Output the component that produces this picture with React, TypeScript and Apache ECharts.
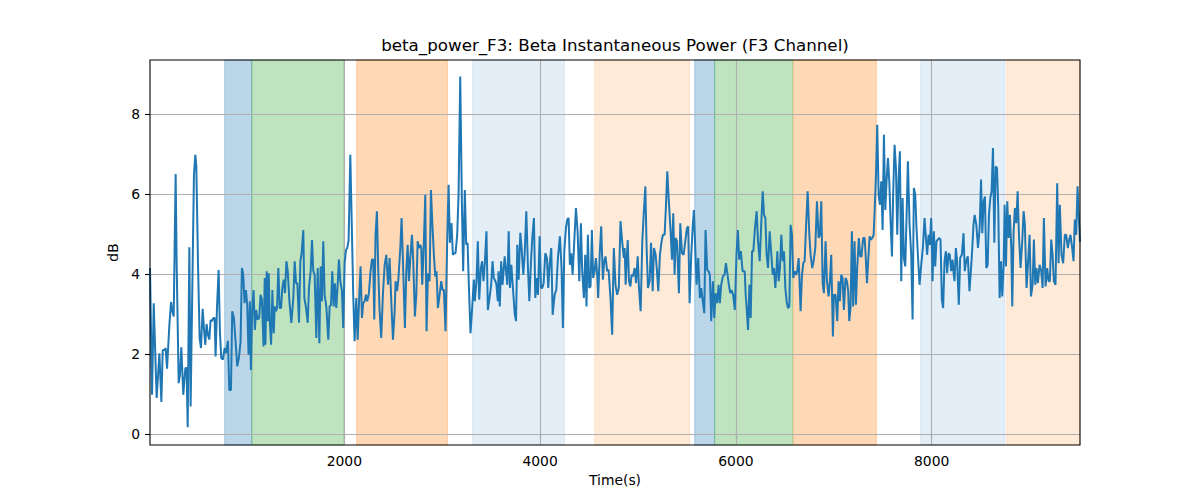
import React, { useEffect, useRef } from "react";
import * as echarts from "echarts";

const titleText = "beta_power_F3: Beta Instantaneous Power (F3 Channel)";
const xAxisName = "Time(s)";
const yAxisName = "dB";
const xTicks = [2000, 4000, 6000, 8000];
const yTicks = [0, 2, 4, 6, 8];
const xRange = [15, 9515];
const yRange = [-0.275, 9.35];

// [time (s), beta power (dB)]
const betaPowerDb: [number, number][] = [
  [15,4.15],[36,0.98],[53,3.27],[83,0.9],[111,2.02],[131,0.8],[145,2.1],[165,2.1],[175,2.15],[189,1.63],[213,2.73],[230,3.3],[243,3.07],[257,2.94],[277,6.5],[287,4.3],[308,1.27],[321,1.48],[335,2.17],[355,0.98],[376,1.65],[389,1.65],[400,0.17],[417,4.67],[430,0.69],[464,6.48],[478,6.98],[488,6.7],[505,4.3],[522,2.4],[536,2.15],[553,3.13],[566,2.65],[580,2.23],[593,2.75],[607,2.48],[621,2.36],[634,2.85],[648,2.82],[661,2.9],[675,2.9],[685,1.94],[699,3.15],[716,4.1],[729,2.57],[743,1.9],[760,1.86],[777,2.15],[791,2.02],[811,2.33],[825,1.1],[842,1.1],[855,3.07],[872,2.9],[889,2.32],[906,1.69],[923,1.9],[940,2.3],[954,4.15],[967,4.0],[981,3.27],[995,3.6],[1008,3.23],[1022,1.98],[1035,3.32],[1046,1.6],[1059,3.1],[1073,3.6],[1086,2.6],[1100,3.1],[1114,2.86],[1131,2.9],[1144,3.48],[1158,3.36],[1175,2.19],
  [1187,3.9],[1194,2.23],[1207,4.07],[1218,2.82],[1228,4.02],[1238,2.82],[1252,2.23],[1265,3.6],[1279,2.52],[1289,3.19],[1303,3.07],[1313,3.15],[1326,4.15],[1340,3.15],[1354,3.15],[1367,3.65],[1381,3.86],[1394,3.52],[1408,4.32],[1422,4.07],[1439,3.32],[1459,2.78],[1479,3.4],[1493,4.32],[1507,3.77],[1520,3.77],[1537,2.78],[1551,4.32],[1564,4.52],[1581,5.1],[1592,3.4],[1609,3.15],[1626,2.78],[1639,3.65],[1656,4.07],[1670,4.85],[1683,4.07],[1697,3.98],[1714,2.4],[1728,4.15],[1745,2.27],[1758,4.19],[1772,3.32],[1785,4.82],[1799,3.48],[1816,3.19],[1836,2.36],[1850,3.19],[1864,3.23],[1877,4.07],[1891,3.19],[1904,3.77],[1918,3.15],[1932,3.73],[1945,4.36],[1959,3.82],[1976,3.57],[1989,2.65],[2003,4.27],[2017,4.6],[2030,4.65],[2044,4.85],[2061,6.98],[2074,5.48],[2091,3.48],[2105,2.32],[2122,3.4],[2136,2.36],[2153,3.48],[2166,4.19],[2180,2.9],[2193,3.27],[2207,3.32],[2221,3.48],[2234,3.32],[2251,3.52],[2268,4.07],[2282,4.36],[2295,4.36],[2306,2.86],[2319,4.98],[2333,5.57],[2346,4.15],[2360,3.1],[2377,2.4],[2394,3.48],
  [2412,4.23],[2429,4.48],[2446,3.73],[2463,4.4],[2473,3.73],[2487,2.9],[2497,2.36],[2514,3.07],[2524,3.82],[2538,3.57],[2551,3.82],[2572,4.65],[2585,5.4],[2602,4.07],[2619,2.65],[2633,4.07],[2647,4.73],[2660,3.82],[2674,4.4],[2691,4.98],[2704,4.32],[2721,2.94],[2735,3.48],[2749,4.82],[2762,4.65],[2776,4.73],[2786,4.65],[2796,3.73],[2813,4.82],[2827,5.98],[2840,2.57],[2854,4.02],[2871,3.82],[2885,6.1],[2898,5.32],[2915,4.48],[2929,3.94],[2942,4.07],[2956,3.15],[2973,3.48],[2990,3.82],[3004,3.6],[3017,3.6],[3034,2.57],[3051,4.85],[3065,6.23],[3078,4.78],[3095,5.27],[3109,4.48],[3123,4.52],[3136,4.52],[3153,4.98],[3167,5.98],[3184,8.94],[3201,5.78],[3214,4.07],[3231,6.1],[3245,4.73],[3259,4.78],[3272,3.73],[3289,2.52],[3306,3.15],[3323,3.86],[3333,3.32],[3350,3.82],[3364,4.82],[3378,3.36],[3395,4.15],[3408,4.32],[3422,3.82],[3435,4.27],[3452,5.07],[3466,3.1],[3483,3.4],[3500,3.73],[3514,4.32],[3527,3.9],[3544,3.82],[3554,3.73],[3568,3.32],[3575,4.07],[3588,3.19],[3602,4.32],[3616,3.73],
  [3638,4.44],[3652,4.07],[3665,3.73],[3679,5.07],[3692,3.65],[3706,4.23],[3720,3.73],[3740,3.02],[3754,2.82],[3767,4.73],[3781,3.86],[3798,5.03],[3811,4.65],[3828,3.98],[3842,4.48],[3859,5.57],[3876,4.15],[3890,3.32],[3907,4.32],[3920,4.9],[3937,5.4],[3951,3.4],[3964,3.9],[3978,3.48],[3995,4.94],[4009,3.65],[4022,3.65],[4036,3.77],[4053,4.52],[4070,4.4],[4083,3.65],[4097,4.23],[4114,4.65],[4128,2.98],[4148,3.48],[4165,3.6],[4182,4.4],[4202,4.94],[4219,4.15],[4233,2.65],[4247,4.57],[4264,5.15],[4277,5.36],[4291,5.4],[4304,4.23],[4318,4.52],[4332,3.98],[4349,4.82],[4366,5.65],[4383,5.07],[4400,3.82],[4417,5.27],[4430,4.07],[4447,3.4],[4461,4.48],[4474,3.19],[4488,4.98],[4502,3.65],[4515,3.69],[4529,5.1],[4542,3.9],[4556,4.07],[4570,4.4],[4583,3.98],[4593,3.4],[4610,4.57],[4624,5.19],[4641,3.86],[4655,4.32],[4668,4.44],[4685,4.07],[4699,4.11],[4719,3.4],[4736,2.48],[4753,4.65],[4770,3.73],[4787,3.48],[4804,3.65],[4821,5.32],[4838,4.82],[4855,4.4],
  [4864,4.65],[4874,3.73],[4884,4.32],[4895,4.85],[4908,3.82],[4922,3.69],[4935,3.98],[4949,3.94],[4966,4.15],[4980,3.77],[4997,4.44],[5010,3.65],[5027,3.07],[5044,4.82],[5058,5.48],[5075,6.19],[5088,4.65],[5102,3.65],[5119,3.82],[5133,4.78],[5150,3.57],[5163,4.65],[5180,4.48],[5194,4.07],[5207,3.57],[5224,4.48],[5241,4.82],[5255,4.98],[5272,4.98],[5286,5.73],[5299,6.57],[5313,5.9],[5333,5.07],[5347,4.36],[5360,5.52],[5374,3.98],[5384,4.9],[5398,4.82],[5418,3.52],[5432,5.27],[5449,4.52],[5466,4.48],[5483,4.82],[5500,5.15],[5513,5.19],[5527,3.27],[5544,4.48],[5558,5.15],[5571,5.6],[5585,4.65],[5598,3.73],[5615,4.4],[5632,3.4],[5646,3.65],[5660,3.36],[5677,3.02],[5690,5.1],[5707,4.1],[5721,4.07],[5734,3.98],[5748,2.82],[5765,3.82],[5779,2.9],[5792,3.52],[5809,3.27],[5823,3.73],[5836,3.27],[5850,3.73],[5867,3.94],[5884,3.98],[5898,4.27],[5915,3.98],[5928,3.73],[5942,3.52],[5955,3.6],[5972,3.48],[5989,3.1],[6006,4.48],[6020,5.1],[6034,4.36],[6051,4.57],[6068,4.07],
  [6090,4.07],[6100,3.48],[6110,3.15],[6124,2.6],[6138,3.73],[6151,2.9],[6165,4.57],[6178,4.57],[6195,5.15],[6212,5.57],[6226,4.82],[6243,4.32],[6260,5.32],[6274,6.07],[6287,5.48],[6301,5.4],[6314,4.48],[6328,4.15],[6345,5.07],[6362,4.48],[6376,3.98],[6389,4.15],[6403,3.65],[6416,4.15],[6423,4.57],[6437,3.82],[6450,4.15],[6464,4.98],[6478,4.32],[6491,4.57],[6505,3.65],[6518,3.32],[6532,3.15],[6546,3.19],[6559,5.23],[6573,4.98],[6586,3.9],[6600,4.07],[6614,3.98],[6627,4.07],[6641,4.4],[6661,3.07],[6675,3.98],[6688,4.27],[6702,4.32],[6716,5.15],[6733,6.07],[6750,4.98],[6763,4.48],[6780,4.15],[6794,4.32],[6811,4.65],[6828,5.82],[6845,4.9],[6858,4.98],[6872,5.82],[6886,3.77],[6899,3.52],[6916,4.82],[6930,3.82],[6947,3.44],[6960,3.82],[6974,4.48],[6991,2.44],[7001,3.48],[7018,3.48],[7035,2.82],[7049,3.82],[7062,3.32],[7076,3.98],[7090,3.9],[7103,3.1],[7120,3.9],[7134,3.82],[7147,3.57],[7158,2.82],[7171,3.15],[7185,5.07],[7198,3.19],[7212,4.82],[7226,3.23],[7239,4.15],[7256,4.9],[7270,4.44],[7283,4.44],[7300,4.9],
  [7315,4.9],[7325,4.48],[7339,3.77],[7352,4.36],[7366,4.94],[7380,4.86],[7393,4.9],[7407,4.98],[7417,5.57],[7431,6.48],[7444,7.73],[7458,5.98],[7471,5.73],[7485,6.32],[7499,5.1],[7512,7.48],[7526,5.6],[7539,6.32],[7553,6.9],[7567,6.32],[7580,5.32],[7594,4.44],[7607,6.07],[7621,7.23],[7635,6.65],[7648,4.98],[7662,6.4],[7675,7.07],[7689,3.82],[7703,5.9],[7716,4.4],[7730,4.19],[7743,5.4],[7757,6.82],[7774,5.23],[7791,4.48],[7805,2.86],[7818,6.15],[7832,5.98],[7845,5.15],[7859,4.48],[7876,3.73],[7893,4.23],[7910,4.65],[7927,5.4],[7941,4.9],[7954,4.48],[7968,4.98],[7981,4.73],[7995,5.4],[8009,3.82],[8022,5.07],[8036,4.19],[8049,4.82],[8063,4.86],[8077,4.9],[8090,4.86],[8104,3.36],[8117,3.15],[8131,4.32],[8145,4.57],[8158,4.02],[8172,4.52],[8185,4.48],[8199,4.07],[8213,4.36],[8226,3.98],[8233,3.82],[8247,4.65],[8260,4.32],[8277,3.23],[8291,4.4],[8308,4.48],[8325,5.02],[8338,4.07],[8352,4.32],[8369,4.44],[8386,3.57],[8400,4.07],[8413,4.57],[8427,5.23],
  [8439,5.48],[8456,5.23],[8473,4.65],[8490,5.15],[8504,6.36],[8517,5.02],[8531,5.82],[8544,5.94],[8558,4.15],[8572,4.23],[8585,5.48],[8599,5.9],[8612,6.07],[8626,7.15],[8640,4.78],[8653,6.69],[8667,6.65],[8680,5.65],[8694,3.4],[8708,4.32],[8721,3.44],[8735,4.23],[8745,5.73],[8759,4.19],[8772,5.82],[8786,4.9],[8799,5.48],[8813,4.65],[8823,3.19],[8837,5.07],[8850,5.65],[8864,5.27],[8878,6.07],[8891,4.98],[8908,4.15],[8925,4.82],[8939,5.57],[8952,5.23],[8969,3.65],[8983,4.23],[9000,4.98],[9014,3.44],[9031,3.73],[9044,4.86],[9058,3.73],[9071,4.15],[9085,3.77],[9102,4.23],[9119,4.07],[9133,3.65],[9146,5.4],[9163,3.69],[9180,4.15],[9194,3.82],[9207,3.82],[9221,4.86],[9235,4.48],[9248,3.82],[9265,3.73],[9282,6.27],[9296,4.27],[9309,5.73],[9326,4.48],[9343,4.27],[9360,4.98],[9374,4.98],[9391,4.65],[9405,4.86],[9418,4.98],[9435,4.65],[9449,4.32],[9462,5.36],[9476,4.98],[9490,6.19],[9500,5.57],[9515,4.8],
];

// Shaded epochs
const bandStarts = [778, 1055, 2126, 3311, 4557, 5579, 5783, 6587, 7887, 8766];
const bandEnds = [1055, 1995, 3053, 4248, 5528, 5783, 6580, 7435, 8748, 9515];
const bandKinds = ["blue", "green", "orange", "paleBlue", "paleOrange", "blue", "green", "orange", "paleBlue", "paleOrange"];

const bandFill: Record<string, string> = {
  blue: "rgba(31,119,180,0.3)",
  green: "rgba(44,160,44,0.3)",
  orange: "rgba(255,127,14,0.3)",
  paleBlue: "rgba(31,119,180,0.12)",
  paleOrange: "rgba(255,127,14,0.16)",
};

const FONT = "DejaVu Sans";

export default function App() {
  const ref = useRef<HTMLDivElement>(null);

  useEffect(() => {
    document.body.style.margin = "0";
    if (!ref.current) return;
    const chart = echarts.init(ref.current, undefined, { renderer: "svg" });

    const areas = bandStarts.map((s, i) => [
      {
        xAxis: s,
        itemStyle: {
          color: bandFill[bandKinds[i]],
          borderColor: bandFill[bandKinds[i]],
          borderWidth: 1,
        },
      },
      { xAxis: bandEnds[i] },
    ]);

    const gridLines = [
      ...xTicks.map((v) => ({ xAxis: v })),
      ...yTicks.map((v) => ({ yAxis: v })),
    ];

    chart.setOption({
      animation: false,
      title: {
        text: titleText,
        left: 615,
        top: 36,
        padding: 0,
        textAlign: "center",
        textStyle: { fontFamily: FONT, fontSize: 16.7, fontWeight: "normal", color: "#000" },
      },
      grid: {
        left: 150,
        right: 120,
        top: 60,
        bottom: 55,
        show: true,
        borderColor: "#000",
        borderWidth: 1.1,
        backgroundColor: "transparent",
        z: 20,
      },
      xAxis: {
        type: "value",
        min: xRange[0],
        max: xRange[1],
        name: xAxisName,
        nameLocation: "middle",
        nameGap: 28,
        nameTextStyle: { fontFamily: FONT, fontSize: 13.9, color: "#000" },
        axisLine: { show: false },
        splitLine: { show: false },
        axisTick: {
          show: true,
          length: 5,
          inside: false,
          customValues: xTicks,
          lineStyle: { color: "#000", width: 1.1 },
        },
        axisLabel: {
          customValues: xTicks,
          margin: 9,
          fontFamily: FONT,
          fontSize: 13.9,
          color: "#000",
          formatter: (v: number) => String(v),
        },
      },
      yAxis: {
        type: "value",
        min: yRange[0],
        max: yRange[1],
        name: yAxisName,
        nameLocation: "middle",
        nameGap: 26,
        nameRotate: 90,
        nameTextStyle: { fontFamily: FONT, fontSize: 13.9, color: "#000" },
        axisLine: { show: false },
        splitLine: { show: false },
        axisTick: {
          show: true,
          length: 5,
          inside: false,
          customValues: yTicks,
          lineStyle: { color: "#000", width: 1.1 },
        },
        axisLabel: {
          customValues: yTicks,
          margin: 10,
          fontFamily: FONT,
          fontSize: 13.9,
          color: "#000",
          formatter: (v: number) => String(v),
        },
      },
      series: [
        {
          name: "bands",
          type: "line",
          data: [],
          z: 1,
          silent: true,
          markArea: { silent: true, z: 1, data: areas },
        },
        {
          name: "grid",
          type: "line",
          data: [],
          z: 3,
          silent: true,
          markLine: {
            silent: true,
            z: 3,
            symbol: "none",
            label: { show: false },
            lineStyle: { color: "#b0b0b0", width: 1.1, type: "solid" },
            data: gridLines,
          },
        },
        {
          name: "beta_power_F3",
          type: "line",
          data: betaPowerDb,
          z: 10,
          showSymbol: false,
          symbol: "none",
          lineStyle: { color: "#1f77b4", width: 2 },
          itemStyle: { color: "#1f77b4" },
        },
      ],
    });

    return () => chart.dispose();
  }, []);

  return <div ref={ref} style={{ width: 1200, height: 500 }} />;
}
